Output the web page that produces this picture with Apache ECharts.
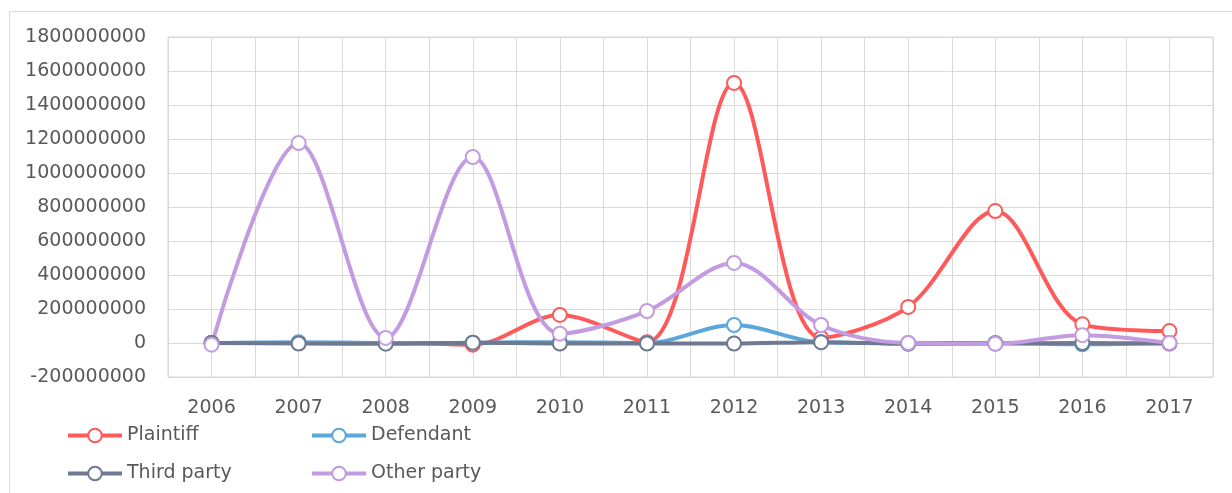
<!DOCTYPE html>
<html>
<head>
<meta charset="utf-8">
<script src="https://cdn.jsdelivr.net/npm/echarts@6/dist/echarts.min.js"></script>
<style>
html,body{margin:0;padding:0;background:#fff;}
#chart{width:1232px;height:493px;}
</style>
</head>
<body>
<div id="chart"></div>
<script>
const years = ['2006','2007','2008','2009','2010','2011','2012','2013','2014','2015','2016','2017'];
const plaintiff   = [0, 0, 0, -10000000, 165000000, 5000000, 1530000000, 30000000, 212000000, 776000000, 110000000, 70000000];
const defendant   = [0, 5000000, 0, 2000000, 5000000, 0, 106000000, 5000000, 0, 0, -8000000, 0];
const thirdParty  = [0, -3000000, -4000000, 2000000, -3000000, -3000000, -3000000, 5000000, -5000000, -3000000, 0, -3000000];
const otherParty  = [-10000000, 1176000000, 30000000, 1094000000, 55000000, 188000000, 471000000, 106000000, 0, -5000000, 46000000, 0];
const yTicks = {min: -200000000, max: 1800000000, interval: 200000000};

const FONT = 'DejaVu Sans';
const TXT = '#595959';
const GRID = '#d9d9d9';
const COLORS = {'Plaintiff': '#FF5A5A', 'Defendant': '#5BA7DA', 'Third party': '#6E7891', 'Other party': '#C39BE0'};

function mk(name, vals) {
  const color = COLORS[name];
  return {
    name: name,
    type: 'line',
    smooth: 0.33,
    symbol: 'emptyCircle',
    symbolSize: 14,
    data: vals.map((v, i) => [i, v]),
    lineStyle: {width: 4, color: color},
    itemStyle: {color: color, borderColor: color, borderWidth: 3.5},
    emphasis: {disabled: true}
  };
}

function lg(name, left, top) {
  const color = COLORS[name];
  return {
    left: left, top: top, padding: 0,
    itemWidth: 54, itemHeight: 17, itemGap: 0,
    lineStyle: {width: 4, color: color},
    itemStyle: {borderWidth: 3.5, color: color, borderColor: color},
    textStyle: {color: TXT, fontSize: 19, fontFamily: FONT},
    data: [name]
  };
}

const chart = echarts.init(document.getElementById('chart'), null, {renderer: 'canvas'});
chart.setOption({
  animation: false,
  backgroundColor: '#fff',
  textStyle: {fontFamily: FONT},
  graphic: [{
    type: 'rect',
    left: 7, top: 9,
    shape: {width: 1400, height: 700},
    style: {fill: 'none', stroke: GRID, lineWidth: 1},
    silent: true
  }],
  grid: {left: 168, right: 19, top: 37, bottom: 116, show: true, borderColor: GRID, borderWidth: 1},
  xAxis: {
    type: 'value',
    min: -0.5, max: 11.5, interval: 0.5,
    axisLine: {show: false},
    axisTick: {show: false},
    splitLine: {show: true, lineStyle: {color: GRID, width: 1}},
    axisLabel: {
      color: TXT, fontSize: 19, fontFamily: FONT, margin: 22,
      showMinLabel: true, showMaxLabel: true,
      formatter: function (v) {
        const r = Math.round(v);
        return Math.abs(v - r) < 1e-6 && r >= 0 && r < years.length ? years[r] : '';
      }
    }
  },
  yAxis: {
    type: 'value',
    min: yTicks.min, max: yTicks.max, interval: yTicks.interval,
    axisLine: {show: false},
    axisTick: {show: false},
    splitLine: {show: true, lineStyle: {color: GRID, width: 1}},
    axisLabel: {color: TXT, fontSize: 19, fontFamily: FONT, margin: 22,
      formatter: function (v) { return String(v); }}
  },
  legend: [
    lg('Plaintiff', 66, 426),
    lg('Defendant', 310, 426),
    lg('Third party', 66, 464),
    lg('Other party', 310, 464)
  ],
  series: [
    mk('Plaintiff', plaintiff),
    mk('Defendant', defendant),
    mk('Third party', thirdParty),
    mk('Other party', otherParty)
  ]
});
</script>
</body>
</html>
